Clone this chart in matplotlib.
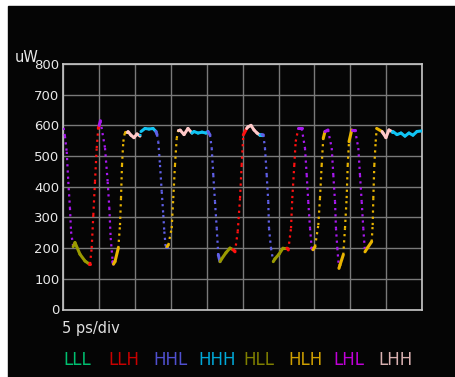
import matplotlib
matplotlib.use('Agg')
import matplotlib.pyplot as plt
from matplotlib.patches import Rectangle

# legend codes, in the order they appear under the plot
codes = ['LLL', 'LLH', 'HHL', 'HHH', 'HLL', 'HLH', 'LHL', 'LHH']

# trace: time (ps), power (uW), bit pattern per point
trace_ps = [
    0.0, 0.2, 0.45, 0.67, 0.9, 1.05, 1.35,
    1.6, 2.3, 3.0, 3.6,
    3.7, 3.93, 4.16, 4.39, 4.63, 4.85, 4.98,
    5.15, 5.79, 6.16, 6.39, 6.58, 6.86, 6.97,
    7.18, 7.64, 7.88, 8.02, 8.16, 8.34, 8.58, 8.86,
    9.0, 9.41, 9.83, 10.25, 10.67,
    10.81, 11.37, 11.92, 12.48, 12.9,
    13.04, 13.22, 13.46, 13.7, 13.92, 14.06, 14.25, 14.43,
    14.62, 15.09, 15.31, 15.55, 15.79, 16.01,
    16.25, 16.81, 17.36, 17.92,
    18.2, 18.76, 19.32, 19.87, 20.15,
    20.43, 20.67, 20.89, 21.13, 21.37, 21.59, 21.83,
    22.06, 22.66, 23.22, 23.64,
    23.92, 24.3, 24.62, 24.85, 25.08, 25.55,
    25.73, 26.15, 26.57, 26.99, 27.4,
    27.55, 27.68,
    27.87, 28.1, 28.34, 28.56, 28.66, 28.94, 29.26,
    29.49, 30.05, 30.61, 31.17,
    31.35, 31.73, 31.91, 32.19, 32.38, 32.75,
    33.22, 33.68, 33.92, 34.14, 34.38, 34.62, 34.8,
    35.08, 35.54, 35.77, 36.01, 36.23, 36.47,
    36.89, 37.41, 37.63, 37.87, 38.0, 38.19, 38.42,
    38.56, 39.02, 39.26, 39.49, 39.64, 39.82, 40.2,
    40.66, 41.12, 41.35, 41.59, 41.81, 42.05,
    42.37, 42.98, 43.12, 43.21, 43.35, 43.54, 43.68, 44.42,
    44.56, 44.97, 45.39, 45.81,
    45.95, 46.51, 47.07, 47.62, 48.18, 48.74, 49.3, 49.98,
]
trace_uw = [
    592, 565, 514, 416, 331, 254, 205,
    218, 180, 158, 148,
    148, 200, 308, 416, 526, 591, 600,
    615, 526, 416, 331, 233, 156, 148,
    156, 200, 275, 363, 471, 547, 580, 580,
    580, 568, 560, 572, 565,
    580, 590, 588, 590, 580,
    570, 547, 471, 384, 308, 254, 205, 205,
    210, 265, 363, 471, 558, 585,
    585, 570, 590, 575,
    580, 575, 578, 575, 580,
    569, 526, 438, 351, 265, 178, 156,
    165, 185, 200, 195,
    188, 254, 363, 471, 569, 590,
    595, 600, 585, 575, 568,
    570, 570,
    569, 526, 438, 351, 265, 200, 156,
    165, 180, 200, 200,
    194, 265, 363, 471, 547, 590,
    590, 526, 438, 351, 265, 200, 195,
    205, 275, 363, 471, 558, 580,
    585, 526, 438, 351, 265, 200, 134,
    145, 178, 265, 363, 471, 547, 585,
    585, 526, 438, 351, 265, 188,
    200, 221, 275, 363, 471, 547, 590, 580,
    575, 560, 585, 580,
    580, 570, 575, 565, 575, 568, 580, 582,
]
trace_code = (
    ['LHL'] * 7 + ['HLL'] * 4 + ['LLH'] * 7 + ['LHL'] * 7 + ['HLH'] * 8
    + ['LHH'] * 5 + ['HHH'] * 5 + ['HHL'] * 8 + ['HLH'] * 6 + ['LHH'] * 4
    + ['HHH'] * 5 + ['HHL'] * 7 + ['HLL'] * 4 + ['LLH'] * 6 + ['LHH'] * 5
    + ['HHH'] * 2 + ['HHL'] * 7 + ['HLL'] * 4 + ['LLH'] * 6 + ['LHL'] * 7
    + ['HLH'] * 6 + ['LHL'] * 7 + ['HLH'] * 7 + ['LHL'] * 6 + ['HLH'] * 8
    + ['LHH'] * 4 + ['HHH'] * 8
)

trace_colors = {'LLL': '#00d070', 'LLH': '#ff1010', 'HHL': '#6060e8', 'HHH': '#10c4f4',
                'HLL': '#9a9a00', 'HLH': '#e8b400', 'LHL': '#a818f0', 'LHH': '#ffc8c8'}
text_colors = {'LLL': '#00c070', 'LLH': '#c80000', 'HHL': '#5050d0', 'HHH': '#00a8d8',
               'HLL': '#808000', 'HLH': '#d0a000', 'LHL': '#c000d8', 'LHH': '#d8b0b0'}

W, H = 456, 377
fig = plt.figure(figsize=(W / 100, H / 100), dpi=100)
fig.patch.set_facecolor('white')
fig.patches.append(Rectangle((8 / W, 0), 1, (H - 6) / H, transform=fig.transFigure,
                             color='#050505', zorder=-10))

ax = fig.add_axes([63.5 / W, (H - 309.5) / H, (422 - 63.5) / W, (309.5 - 64) / H])
ax.set_facecolor('#050505')
ax.set_xlim(0, 50)
ax.set_ylim(0, 800)
ax.set_xticks(range(0, 51, 5))
ax.set_yticks(range(0, 801, 100))
ax.set_xticklabels([])
ax.tick_params(length=0, pad=3, labelsize=9.5, labelcolor='#e8e8e8')
ax.grid(True, color='#7a7a7a', lw=1.0)
ax.set_axisbelow(True)
for s in ax.spines.values():
    s.set_color('#c8c8c8')
    s.set_linewidth(1.2)

# steep edges are the sparse dotted transitions, the rest are dense flat levels
for i in range(len(trace_ps) - 1):
    x0, x1 = trace_ps[i], trace_ps[i + 1]
    y0, y1 = trace_uw[i], trace_uw[i + 1]
    c = trace_colors[trace_code[i + 1]]
    steep = abs(y1 - y0) / max(x1 - x0, 1e-6) > 100
    if steep:
        ax.plot([x0, x1], [y0, y1], color=c, lw=1.6, ls=(0, (1, 1.8)), zorder=3)
    else:
        ax.plot([x0, x1], [y0, y1], color=c, lw=2.2, solid_capstyle='round', zorder=3)

fig.text(15 / W, 1 - 62 / H, 'uW', color='#e8e8e8', fontsize=10.5, va='baseline')
fig.text(62 / W, 1 - 333 / H, '5 ps/div', color='#e0e0e0', fontsize=10.5, va='baseline')

for i, code in enumerate(codes):
    fig.text((63 + 45 * i) / W, 1 - 365 / H, code, color=text_colors[code],
             fontsize=12, va='baseline')

fig.savefig('out.png', dpi=100, facecolor=fig.get_facecolor())
